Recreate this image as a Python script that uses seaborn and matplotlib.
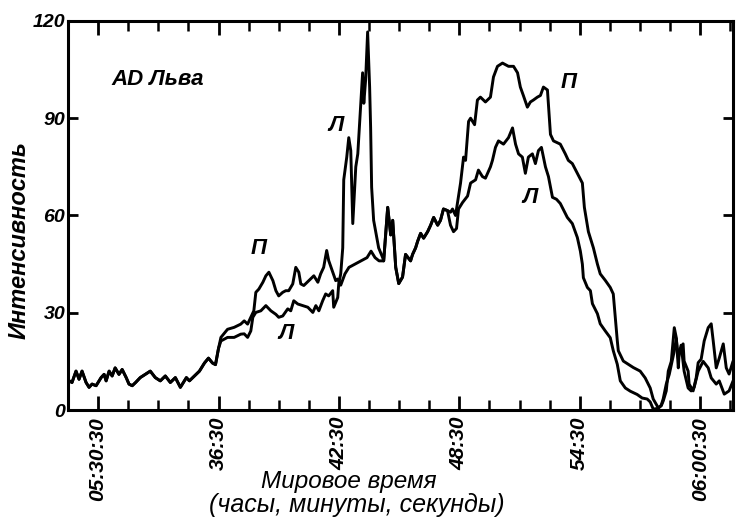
import pandas as pd
import numpy as np
import matplotlib
matplotlib.use("Agg")
import matplotlib.pyplot as plt
import seaborn as sns

# time in minutes after 05:00 UT, intensity in arbitrary units
# right polarisation (П)
t_right = [29.06, 29.2, 29.4, 29.55, 29.7, 29.9, 30.05, 30.2, 30.4, 30.65, 30.8, 30.9,
           31.05, 31.2, 31.35, 31.54, 31.7, 31.9, 32.04, 32.2, 32.37, 32.6, 32.85, 33.1,
           33.35, 33.6, 33.85, 34.1, 34.35, 34.6, 34.75, 34.9, 35.05, 35.3, 35.55, 35.8,
           36.0, 36.2, 36.35, 36.5, 36.62, 36.95, 37.28, 37.61, 37.78, 37.95, 38.11,
           38.26, 38.36, 38.51, 38.71, 38.86, 39.01, 39.21, 39.36, 39.5, 39.7, 39.85, 40.0,
           40.2, 40.35, 40.5, 40.6, 40.75, 41.0, 41.25, 41.45, 41.59, 41.74, 41.89, 41.99,
           42.19, 42.34, 42.44, 42.59, 42.8, 43.0, 43.3, 43.6, 43.9, 44.1, 44.3, 44.5,
           44.73, 44.93, 45.08, 45.18, 45.33, 45.48, 45.67, 45.82, 46.07, 46.17, 46.32,
           46.42, 46.57, 46.72, 46.92, 47.07, 47.22, 47.42, 47.56, 47.71, 47.91, 48.06,
           48.16, 48.31, 48.46, 48.56, 48.71, 48.81, 48.96, 49.06, 49.26, 49.4, 49.55,
           49.8, 50.05, 50.2, 50.4, 50.65, 50.95, 51.2, 51.4, 51.54, 51.69, 51.89, 52.04,
           52.19, 52.39, 52.54, 52.69, 52.89, 53.04, 53.19, 53.53, 53.78, 53.93, 54.13,
           54.38, 54.63, 54.73, 54.93, 55.18, 55.38, 55.52, 55.77, 56.02, 56.17, 56.27,
           56.37, 56.42, 56.67, 56.92, 57.17, 57.51, 57.76, 58.01, 58.16, 58.41, 58.56,
           58.66, 58.81, 58.91, 59.06, 59.21, 59.31, 59.41, 59.46, 59.65, 59.7, 59.9,
           59.95, 60.15, 60.3, 60.4, 60.55, 60.7, 60.9, 61.05, 61.15, 61.3, 61.45, 61.65,
           61.8, 61.94, 62.14]
v_right = [9, 8.5, 12, 9.5, 12, 8.5, 7, 8, 7.5, 10, 11, 9,
           12, 10.5, 13, 11, 12.5, 10, 8, 7.5, 8.5, 10, 11, 12,
           10, 9, 10.5, 8.5, 10, 7, 8.5, 10, 9, 10.5, 12, 14.5,
           16, 14.5, 14, 19, 22.4, 24.9, 25.5, 26.5, 27.5, 26.5, 28.6,
           30.6, 36.3, 37.3, 39.4, 41.4, 42.5, 39.9, 36.8, 35.2, 36.3, 36.8, 36.8,
           38.9, 44, 42.5, 38.9, 38.4, 39.9, 41.4, 39.4, 42, 44, 49.2, 46.1,
           42.5, 39.9, 40.4, 38.5, 42, 44, 45, 46, 47, 49, 47, 46,
           46, 62.5, 54, 58.5, 44, 39, 41, 48, 46, 48, 50,
           52, 54.5, 53, 55, 57, 59.4, 57, 58.5, 62, 61.5, 61,
           62, 60, 66, 70, 78, 77, 89, 90, 88, 95.6, 96.5,
           95, 96.5, 102.7, 106, 107, 106, 106, 104, 99.6, 97, 93.4, 95,
           95.6, 96.5, 97, 99.6, 98.7, 85, 83, 82, 79, 77, 76,
           73, 70, 62.5, 55, 50, 45, 42, 40, 37.8, 35.8, 28.5,
           21.4, 18.3, 15.1, 14.1, 13.1, 12, 9.9, 6.8, 3.4, 0.7, 1.3,
           2.8, 5.9, 12, 15, 25.4, 22.3, 13, 18.2, 20.4, 15.1, 12,
           8, 5.9, 9.9, 14.6, 15.7, 21.3, 25.4, 26.6, 21.3, 13, 16, 20.4,
           13, 11.1, 15.1]

# left polarisation (Л)
t_left = [29.06, 29.2, 29.4, 29.55, 29.7, 29.9, 30.05, 30.2, 30.4, 30.65, 30.8, 30.9,
          31.05, 31.2, 31.35, 31.54, 31.7, 31.9, 32.04, 32.2, 32.37, 32.6, 32.85, 33.1,
          33.35, 33.6, 33.85, 34.1, 34.35, 34.6, 34.75, 34.9, 35.05, 35.3, 35.55, 35.8,
          36.0, 36.2, 36.35, 36.5, 36.62, 36.95, 37.28, 37.61, 37.78, 37.95, 38.11,
          38.21, 38.36, 38.61, 38.86, 39.11, 39.36, 39.5, 39.7, 39.95, 40.1, 40.25, 40.45,
          40.7, 40.95, 41.2, 41.35, 41.5, 41.69, 41.84, 41.99, 42.19, 42.24, 42.44, 42.49,
          42.59, 42.69, 42.74, 42.89, 42.99, 43.09, 43.19, 43.34, 43.44, 43.59, 43.68,
          43.74, 43.83, 43.93, 44.03, 44.08, 44.13, 44.23, 44.48, 44.68,
          44.73, 44.93, 45.08, 45.18, 45.33, 45.48, 45.67, 45.82, 46.07, 46.17, 46.32,
          46.42, 46.57, 46.72, 46.92, 47.07, 47.22, 47.42, 47.56, 47.71, 47.91, 48.06,
          48.21, 48.36, 48.46, 48.66, 48.91, 49.06, 49.31, 49.45, 49.65, 49.8, 50.05,
          50.15, 50.3, 50.45, 50.7, 50.95, 51.15, 51.3, 51.45, 51.64, 51.79, 51.94, 52.14,
          52.29, 52.44, 52.59, 52.79, 52.94, 53.14, 53.34, 53.53, 53.88, 54.13, 54.38,
          54.53, 54.63, 54.68, 54.88, 55.03, 55.13, 55.38, 55.52, 55.77, 56.02, 56.17,
          56.37, 56.52, 56.77, 57.02, 57.36, 57.61, 57.86, 58.01, 58.16, 58.41, 58.56,
          58.66, 58.81, 58.96, 59.21, 59.31, 59.41, 59.55, 59.7, 59.9, 60.05, 60.2, 60.4,
          60.65, 60.9, 61.05, 61.3, 61.45, 61.7, 61.94, 62.14]
v_left = [9, 8.5, 12, 9.5, 12, 8.5, 7, 8, 7.5, 10, 11, 9,
          12, 10.5, 13, 11, 12.5, 10, 8, 7.5, 8.5, 10, 11, 12,
          10, 9, 10.5, 8.5, 10, 7, 8.5, 10, 9, 10.5, 12, 14.5,
          16, 14.5, 14, 19, 21.3, 22.4, 22.4, 23.4, 23.5, 22.4, 24.4,
          28.6, 30.1, 30.6, 32.2, 30.6, 29.5, 28.6, 29, 31.2, 30.6, 33.7, 32.7,
          32.2, 31.7, 30.1, 32.2, 30.6, 33.7, 35.8, 35.2, 36.8, 31.7, 34.7, 38.9,
          42, 50, 71, 78, 84, 80, 57.5, 75, 79, 94.6, 104,
          94.6, 101.8, 116.6, 99.6, 87, 68.7, 58.5, 50, 47,
          46, 62.5, 54, 58.5, 44, 39, 41, 48, 46, 48, 50,
          52, 54.5, 53, 55, 57, 59.4, 57, 58.5, 62, 61.5, 57,
          55, 56, 62, 64, 66, 70, 71, 74, 72, 71.5, 75,
          77, 81, 83, 82, 84, 87, 82, 79, 78, 73, 78, 79,
          76, 80, 81, 75, 72, 65.6, 65, 63.7, 59.4, 57.5, 53.2,
          49, 45, 40.8, 37.8, 36.8, 32.8, 29.7, 26.6, 24.4, 22.3, 18.3,
          14.1, 9, 6.8, 5.8, 4.8, 3.7, 3.4, 2.5, 0.3, 0.5, 1.5,
          3.5, 8, 11, 18.2, 22, 16, 20, 12, 6.8, 5.9, 7, 12,
          15, 13, 9.9, 8, 9, 4.9, 5.9, 9]

tick_pos = [30.5, 36.5, 42.5, 48.5, 54.5, 60.5]
tick_labels = ["05:30:30", "36:30", "42:30", "48:30", "54:30", "06:00:30"]

sns.set_style("white")
plt.rcParams['font.family'] = ['Liberation Sans', 'DejaVu Sans']
plt.rcParams['text.color'] = 'black'
plt.rcParams['axes.labelcolor'] = 'black'
plt.rcParams['xtick.color'] = 'black'
plt.rcParams['ytick.color'] = 'black'

df_r = pd.DataFrame({'t': t_right, 'v': v_right})
df_l = pd.DataFrame({'t': t_left, 'v': v_left})

fig = plt.figure(figsize=(7.39, 5.23), dpi=100)
ax = fig.add_axes([0.092, 0.216, 0.9, 0.744])

sns.lineplot(data=df_r, x='t', y='v', ax=ax, color='black', lw=2.1,
             estimator=None, sort=False)
sns.lineplot(data=df_l, x='t', y='v', ax=ax, color='black', lw=2.1,
             estimator=None, sort=False)

ax.set_xlim(29.06, 62.14)
ax.set_ylim(0, 120)

for s in ax.spines.values():
    s.set_linewidth(2.2)
    s.set_color('black')

ax.set_xticks(tick_pos)
ax.set_xticks(np.arange(29.0, 62.5, 1.5), minor=True)
ax.set_xticklabels(tick_labels, rotation=90, fontsize=15, fontweight='bold',
                   fontstyle='italic', va='top', ha='center')
ax.set_yticks([0, 30, 60, 90, 120])
ax.set_yticklabels(['0', '30', '60', '90', '120'], fontsize=14, fontweight='bold',
                   fontstyle='italic')

ax.tick_params(axis='x', which='major', direction='in', top=True, bottom=True,
               length=10, width=2, pad=5, colors='black')
ax.tick_params(axis='x', which='minor', direction='in', top=True, bottom=True,
               length=7, width=1.8, colors='black')
ax.tick_params(axis='y', which='major', direction='in', left=True, right=True,
               length=7, width=2, pad=2, colors='black')

ax.set_xlabel('')
ax.set_ylabel('Интенсивность', fontsize=17, fontweight='bold', fontstyle='italic',
              color='black')
ax.yaxis.set_label_coords(-0.056, 0.436)

fig.text(0.472, 0.080, 'Мировое время', fontsize=17.5, fontstyle='italic',
         ha='center', va='center', color='black')
fig.text(0.483, 0.034, '(часы, минуты, секунды)', fontsize=18, fontstyle='italic',
         ha='center', va='center', color='black')

lab = dict(fontsize=16, fontweight='bold', fontstyle='italic', ha='center',
           va='center', color='black')
ax.text(33.49, 101.8, 'AD Льва', **lab)
ax.text(38.51, 49.8, 'П', **lab)
ax.text(53.93, 101, 'П', **lab)
ax.text(42.34, 87.8, 'Л', **lab)
ax.text(39.85, 23.5, 'Л', **lab)
ax.text(52.04, 65.6, 'Л', **lab)

fig.savefig('out.png', dpi=100)
